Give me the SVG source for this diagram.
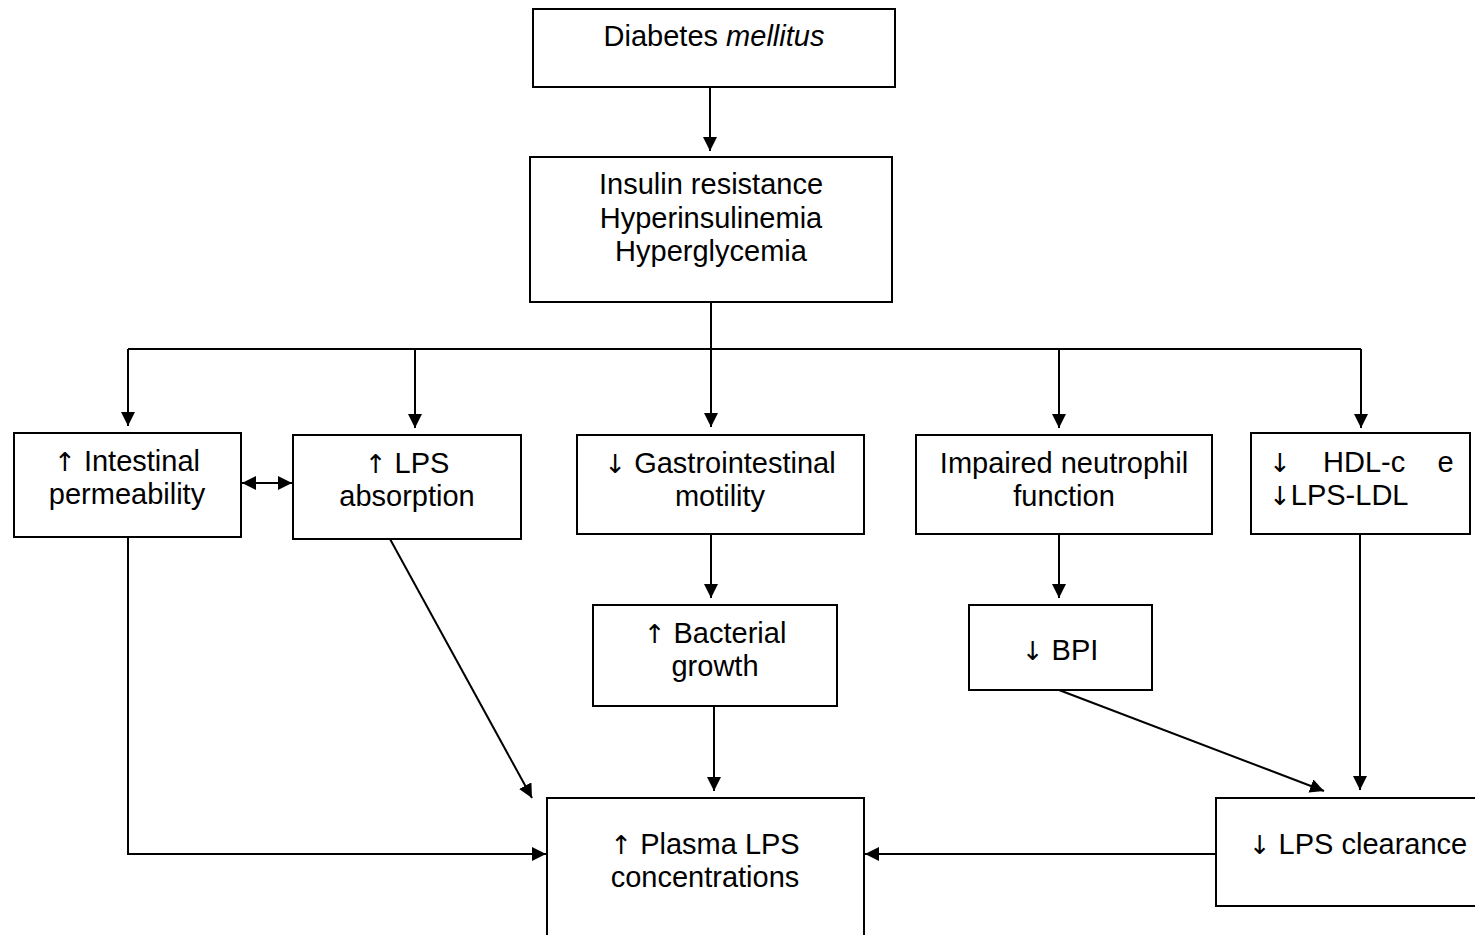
<svg xmlns="http://www.w3.org/2000/svg" width="1475" height="935" viewBox="0 0 1475 935">
<style>
.box{fill:#fff;stroke:#000;stroke-width:2}
.t{font-family:"Liberation Sans",Arial,sans-serif;font-size:29px;fill:#000;text-anchor:middle}
.s{text-anchor:start}
.a{font-family:"DejaVu Sans",sans-serif;font-size:26px}
.l{fill:none;stroke:#000;stroke-width:2}
</style>
<defs>
<marker id="ah" viewBox="0 0 10 10" refX="10" refY="5" markerWidth="14" markerHeight="14" markerUnits="userSpaceOnUse" orient="auto-start-reverse">
<path d="M0,0 L10,5 L0,10 Z" fill="#000"/>
</marker>
</defs>
<rect width="1475" height="935" fill="#fff"/>
<g id="connectors">
<line class="l" x1="710" y1="87" x2="710" y2="151" marker-end="url(#ah)"/>
<line class="l" x1="711" y1="302" x2="711" y2="427" marker-end="url(#ah)"/>
<line class="l" x1="128" y1="349" x2="1361" y2="349"/>
<line class="l" x1="128" y1="349" x2="128" y2="426" marker-end="url(#ah)"/>
<line class="l" x1="415" y1="349" x2="415" y2="428" marker-end="url(#ah)"/>
<line class="l" x1="1059" y1="349" x2="1059" y2="428" marker-end="url(#ah)"/>
<line class="l" x1="1361" y1="349" x2="1361" y2="428" marker-end="url(#ah)"/>
<line class="l" x1="242" y1="483" x2="292" y2="483" marker-start="url(#ah)" marker-end="url(#ah)"/>
<line class="l" x1="711" y1="534" x2="711" y2="598" marker-end="url(#ah)"/>
<line class="l" x1="1059" y1="534" x2="1059" y2="598" marker-end="url(#ah)"/>
<line class="l" x1="1059" y1="690" x2="1324" y2="791" marker-end="url(#ah)"/>
<line class="l" x1="1360" y1="534" x2="1360" y2="790" marker-end="url(#ah)"/>
<line class="l" x1="1216" y1="854" x2="865" y2="854" marker-end="url(#ah)"/>
<polyline class="l" points="128,537 128,854 546,854" marker-end="url(#ah)"/>
<line class="l" x1="390" y1="539" x2="532" y2="798" marker-end="url(#ah)"/>
<line class="l" x1="714" y1="706" x2="714" y2="791" marker-end="url(#ah)"/>
</g>
<g id="diabetes">
<rect class="box" x="533" y="9" width="362" height="78"/>
<text class="t" x="714" y="46">Diabetes <tspan font-style="italic">mellitus</tspan></text>
</g>
<g id="insulin">
<rect class="box" x="530" y="157" width="362" height="145"/>
<text class="t" x="711" y="194">Insulin resistance</text>
<text class="t" x="711" y="228">Hyperinsulinemia</text>
<text class="t" x="711" y="261">Hyperglycemia</text>
</g>
<g id="intestinal">
<rect class="box" x="14" y="433" width="227" height="104"/>
<text class="t" x="127" y="471"><tspan class="a">↑</tspan> Intestinal</text>
<text class="t" x="127" y="504">permeability</text>
</g>
<g id="lpsabs">
<rect class="box" x="293" y="435" width="228" height="104"/>
<text class="t" x="407" y="473"><tspan class="a">↑</tspan> LPS</text>
<text class="t" x="407" y="506">absorption</text>
</g>
<g id="gastro">
<rect class="box" x="577" y="435" width="287" height="99"/>
<text class="t" x="720" y="473"><tspan class="a">↓</tspan> Gastrointestinal</text>
<text class="t" x="720" y="506">motility</text>
</g>
<g id="neutrophil">
<rect class="box" x="916" y="435" width="296" height="99"/>
<text class="t" x="1064" y="473">Impaired neutrophil</text>
<text class="t" x="1064" y="506">function</text>
</g>
<g id="hdl">
<rect class="box" x="1251" y="433" width="219" height="101"/>
<text class="t s" x="1269" y="472" xml:space="preserve"><tspan class="a">↓</tspan>    HDL-c    e</text>
<text class="t s" x="1269" y="505"><tspan class="a">↓</tspan>LPS-LDL</text>
</g>
<g id="bacterial">
<rect class="box" x="593" y="605" width="244" height="101"/>
<text class="t" x="715" y="643"><tspan class="a">↑</tspan> Bacterial</text>
<text class="t" x="715" y="676">growth</text>
</g>
<g id="bpi">
<rect class="box" x="969" y="605" width="183" height="85"/>
<text class="t" x="1060" y="660"><tspan class="a">↓</tspan> BPI</text>
</g>
<g id="clearance">
<rect class="box" x="1216" y="798" width="262" height="108"/>
<text class="t" x="1358" y="854"><tspan class="a">↓</tspan> LPS clearance</text>
</g>
<g id="plasma">
<rect class="box" x="547" y="798" width="317" height="140"/>
<text class="t" x="705" y="854"><tspan class="a">↑</tspan> Plasma LPS</text>
<text class="t" x="705" y="887">concentrations</text>
</g>
</svg>
